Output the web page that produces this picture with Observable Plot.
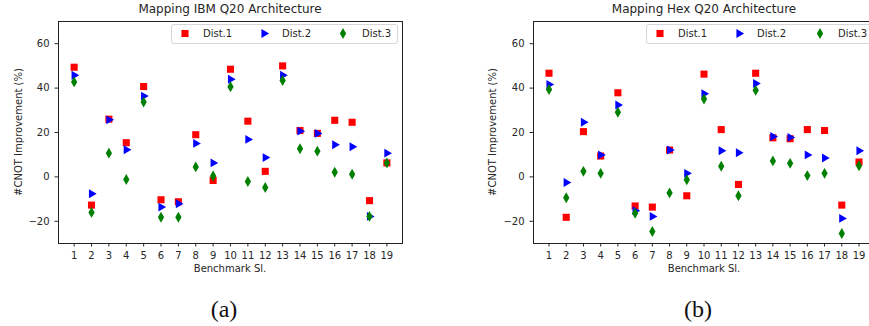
<!DOCTYPE html>
<html>
<head>
<meta charset="utf-8">
<script src="https://cdn.jsdelivr.net/npm/d3@7"></script>
<script src="https://cdn.jsdelivr.net/npm/@observablehq/plot@0.6"></script>
<style>
  html, body { margin: 0; padding: 0; background: #fff; overflow: hidden; }
  #chart { position: relative; width: 869px; height: 326px; overflow: hidden; background: #fff; }
</style>
</head>
<body>
<div id="chart"></div>
<script>
// ---- data ----
const bench = [1, 2, 3, 4, 5, 6, 7, 8, 9, 10, 11, 12, 13, 14, 15, 16, 17, 18, 19];
const yTicks = [-20, 0, 20, 40, 60];
const seriesNames = ["Dist.1", "Dist.2", "Dist.3"];
const titles = ["Mapping IBM Q20 Architecture", "Mapping Hex Q20 Architecture"];
const captions = ["(a)", "(b)"];
const xLabel = "Benchmark Sl.";
const yLabel = "#CNOT Improvement (%)";

// Mapping IBM Q20
const ibmDist1 = [49.4, -12.7, 26.0, 15.4, 40.7, -10.3, -11.2, 19.0, -1.6, 48.5, 25.1, 2.5, 50.0, 20.9, 19.6, 25.5, 24.6, -10.7, 6.3];
const ibmDist2 = [45.8, -7.6, 25.7, 12.2, 36.4, -13.6, -12.1, 15.1, 6.3, 44.0, 16.9, 8.7, 45.8, 20.6, 19.6, 14.5, 13.6, -17.8, 10.7];
const ibmDist3 = [42.8, -16.0, 10.7, -1.2, 33.7, -18.2, -18.2, 4.5, 0.4, 40.6, -2.1, -4.8, 43.4, 12.7, 11.6, 2.1, 1.2, -17.8, 6.3];

// Mapping Hex Q20
const hexDist1 = [46.7, -18.2, 20.4, 9.4, 37.9, -13.1, -13.6, 12.1, -8.5, 46.3, 21.3, -3.4, 46.7, 17.6, 17.2, 21.3, 20.9, -12.7, 6.7];
const hexDist2 = [41.6, -2.5, 24.6, 9.9, 32.4, -15.2, -17.8, 12.1, 1.6, 37.5, 11.8, 10.9, 42.1, 18.2, 17.8, 9.9, 8.5, -18.7, 11.8];
const hexDist3 = [39.4, -9.4, 2.5, 1.6, 29.1, -16.4, -24.6, -7.2, -1.3, 35.1, 4.8, -8.5, 39.0, 7.2, 6.1, 0.6, 1.6, -25.5, 5.0];

// ---- styles ----
const colors = ["#ff0000", "#0000ff", "#008000"];
const symbols = ["square", "triangle", "diamond"];
const rotations = [0, 90, 0];
const radii = [4.0, 3.3, 3.3];
const FONT = "DejaVu Sans, sans-serif";
const TXT = "#262626";

const chart = document.getElementById("chart");
const minus = d => d < 0 ? "\u2212" + Math.abs(d) : String(d);

function panel(vals, left, width) {
  const data = bench.map((b, i) => ({b, v0: vals[0][i], v1: vals[1][i], v2: vals[2][i]}));
  const svg = Plot.plot({
    width, height: 260,
    marginLeft: 58, marginRight: 38, marginTop: 21, marginBottom: 17,
    x: {domain: [0.1, 19.9], label: null},
    y: {domain: [-30, 70], label: null},
    style: {fontFamily: FONT, fontSize: "10px", color: TXT, background: "transparent", overflow: "visible", maxWidth: "none"},
    marks: [
      Plot.axisX({ticks: bench, tickSize: 3.5, tickPadding: 4.5, tickFormat: d => String(d), label: null, fill: TXT}),
      Plot.axisY({ticks: yTicks, tickSize: 3.5, tickPadding: 5.5, tickFormat: minus, label: null, fill: TXT}),
      ...[0, 1, 2].map(k => Plot.dot(data, {
        x: "b", y: "v" + k, symbol: symbols[k], r: radii[k], rotate: rotations[k],
        fill: colors[k], stroke: "none"
      })),
      Plot.frame({stroke: "#222", strokeWidth: 1})
    ]
  });
  svg.style.position = "absolute";
  svg.style.left = left + "px";
  svg.style.top = "0px";
  chart.appendChild(svg);
}

panel([ibmDist1, ibmDist2, ibmDist3], 0, 440);
panel([hexDist1, hexDist2, hexDist3], 475, 437);

// ---- overlay: titles, axis labels, legends, captions ----
const ov = d3.select(chart).append("svg")
  .attr("width", 869).attr("height", 326)
  .style("position", "absolute").style("left", "0px").style("top", "0px")
  .style("font-family", FONT);

const layout = [
  {cx: 230, yl: 22, legX: 171, sym: [185, 264, 343], txt: [203, 282, 362]},
  {cx: 704, yl: 496, legX: 646, sym: [660, 739, 820], txt: [678, 757, 838]}
];

const symType = {square: d3.symbolSquare, triangle: d3.symbolTriangle, diamond: d3.symbolDiamond};

layout.forEach((L, p) => {
  ov.append("text").attr("x", L.cx).attr("y", 13).attr("text-anchor", "middle")
    .attr("font-size", 12).attr("fill", TXT).text(titles[p]);
  ov.append("text").attr("x", L.cx).attr("y", 272).attr("text-anchor", "middle")
    .attr("font-size", 10).attr("fill", TXT).text(xLabel);
  ov.append("text").attr("transform", `translate(${L.yl},132) rotate(-90)`).attr("text-anchor", "middle")
    .attr("font-size", 10).attr("fill", TXT).text(yLabel);
  ov.append("text").attr("x", L.cx - 6).attr("y", 317).attr("text-anchor", "middle")
    .attr("font-size", 24).attr("font-family", "Liberation Serif, serif").attr("fill", "#111").text(captions[p]);
  // legend
  ov.append("rect").attr("x", L.legX + 0.5).attr("y", 24.5).attr("width", 226).attr("height", 19)
    .attr("rx", 2.5).attr("fill", "white").attr("fill-opacity", 0.8).attr("stroke", "#d5d5d5");
  seriesNames.forEach((name, k) => {
    ov.append("path")
      .attr("d", d3.symbol(symType[symbols[k]], Math.PI * radii[k] * radii[k])())
      .attr("transform", `translate(${L.sym[k]},33.5) rotate(${rotations[k]})`)
      .attr("fill", colors[k]);
    ov.append("text").attr("x", L.txt[k]).attr("y", 37.2).attr("font-size", 10)
      .attr("fill", TXT).text(name);
  });
});
</script>
</body>
</html>
